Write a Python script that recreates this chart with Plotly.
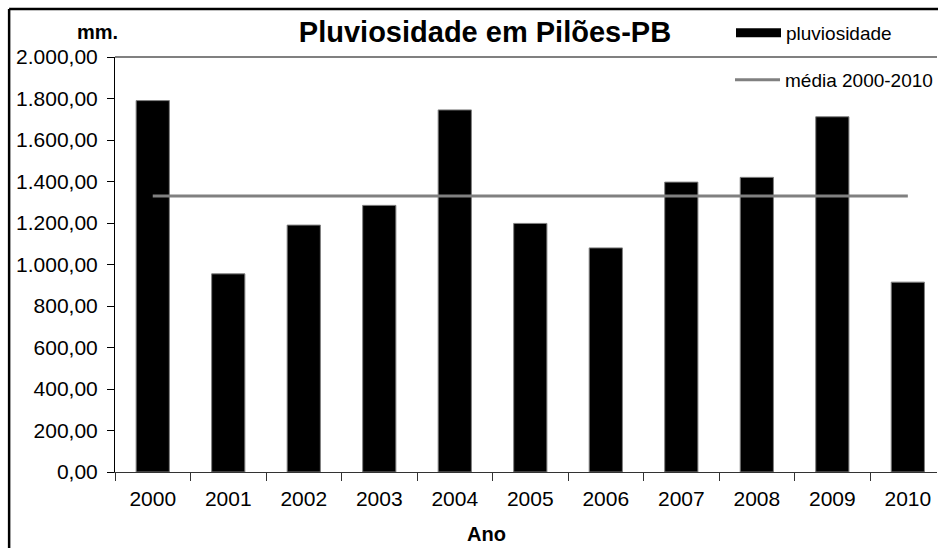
import plotly.graph_objects as go

anos = ["2000", "2001", "2002", "2003", "2004", "2005", "2006", "2007", "2008", "2009", "2010"]
pluviosidade = [1790, 955, 1190, 1285, 1745, 1198, 1080, 1397, 1420, 1712, 915]
media_valor = 1330
media = [media_valor] * len(anos)
y_ticks = [0, 200, 400, 600, 800, 1000, 1200, 1400, 1600, 1800, 2000]

FONT = "Arial, 'Liberation Sans', sans-serif"
W, H = 938, 548
ML, MT, MB = 115, 57, 76
plot_w = W - ML
plot_h = H - MT - MB
cat_px = 75.6

fig = go.Figure()
fig.add_trace(go.Bar(
    x=anos, y=pluviosidade, name="pluviosidade",
    marker=dict(color="black", line=dict(color="#808080", width=1)),
    width=0.44, showlegend=False, legendgroup="p",
))
# legend proxy for the bar series (wide black swatch)
fig.add_trace(go.Scatter(
    x=[None], y=[None], mode="lines", name="pluviosidade",
    line=dict(color="black", width=9), legendgroup="p", legend="legend",
))
fig.add_trace(go.Scatter(
    x=anos, y=media, mode="lines", name="média 2000-2010",
    line=dict(color="#808080", width=3), legend="legend2",
))

def px_to_paper_x(px):
    return (px - ML) / plot_w

def px_to_paper_y(py):
    return 1 - (py - MT) / plot_h

fig.update_layout(
    width=W, height=H,
    margin=dict(l=ML, r=0, t=MT, b=MB, pad=0),
    paper_bgcolor="white", plot_bgcolor="white",
    font=dict(family=FONT, color="black", size=21),
    separators=",.",
    title=dict(text="<b>Pluviosidade em Pilões-PB</b>", x=485 / W, xanchor="center",
               y=1 - 32 / H, yanchor="middle", font=dict(size=29, family=FONT, color="black")),
    showlegend=True,
    legend=dict(x=px_to_paper_x(731), xanchor="left", y=px_to_paper_y(33), yanchor="middle",
                font=dict(size=19, family=FONT), bgcolor="rgba(0,0,0,0)", borderwidth=0,
                itemwidth=45),
    legend2=dict(x=px_to_paper_x(731), xanchor="left", y=px_to_paper_y(80), yanchor="middle",
                 font=dict(size=19, family=FONT), bgcolor="rgba(0,0,0,0)", borderwidth=0,
                 itemwidth=45),
    xaxis=dict(
        type="category", range=[-0.5, -0.5 + plot_w / cat_px],
        showline=True, linecolor="#333333", linewidth=1,
        ticks="outside", tickson="boundaries", ticklen=8, tickcolor="#333333",
        ticklabelstandoff=8,
        tickfont=dict(size=21, family=FONT), showgrid=False, zeroline=False,
    ),
    yaxis=dict(
        range=[0, 2000], tickvals=y_ticks, tickformat=",.2f",
        showline=True, linecolor="black", linewidth=1,
        ticks="outside", ticklen=7, tickcolor="black",
        ticklabelstandoff=5,
        tickfont=dict(size=21, family=FONT), showgrid=False, zeroline=False,
    ),
    bargap=0.56,
    annotations=[
        dict(text="<b>mm.</b>", xref="paper", yref="paper", x=px_to_paper_x(97), y=px_to_paper_y(32),
             xanchor="center", yanchor="middle", showarrow=False, font=dict(size=20, family=FONT)),
        dict(text="<b>Ano</b>", xref="paper", yref="paper", x=px_to_paper_x(487), y=px_to_paper_y(534),
             xanchor="center", yanchor="middle", showarrow=False, font=dict(size=20, family=FONT)),
    ],
    shapes=[
        # top border of the plot area (gray)
        dict(type="line", xref="paper", yref="y domain", x0=0, x1=1, y0=1, y1=1,
             line=dict(color="#808080", width=2), layer="below"),
        # outer chart frame: left and top edges (right/bottom lie outside the picture)
        dict(type="line", xref="paper", yref="paper",
             x0=px_to_paper_x(9), x1=px_to_paper_x(9),
             y0=px_to_paper_y(H + 10), y1=px_to_paper_y(9),
             line=dict(color="black", width=2.5), layer="above"),
        dict(type="line", xref="paper", yref="paper",
             x0=px_to_paper_x(9), x1=px_to_paper_x(W + 10),
             y0=px_to_paper_y(9), y1=px_to_paper_y(9),
             line=dict(color="black", width=2.5), layer="above"),
    ],
)

fig.write_html("out.html", config={"displayModeBar": False},
               post_script="document.body.style.margin='0px';document.body.style.overflow='hidden';")
